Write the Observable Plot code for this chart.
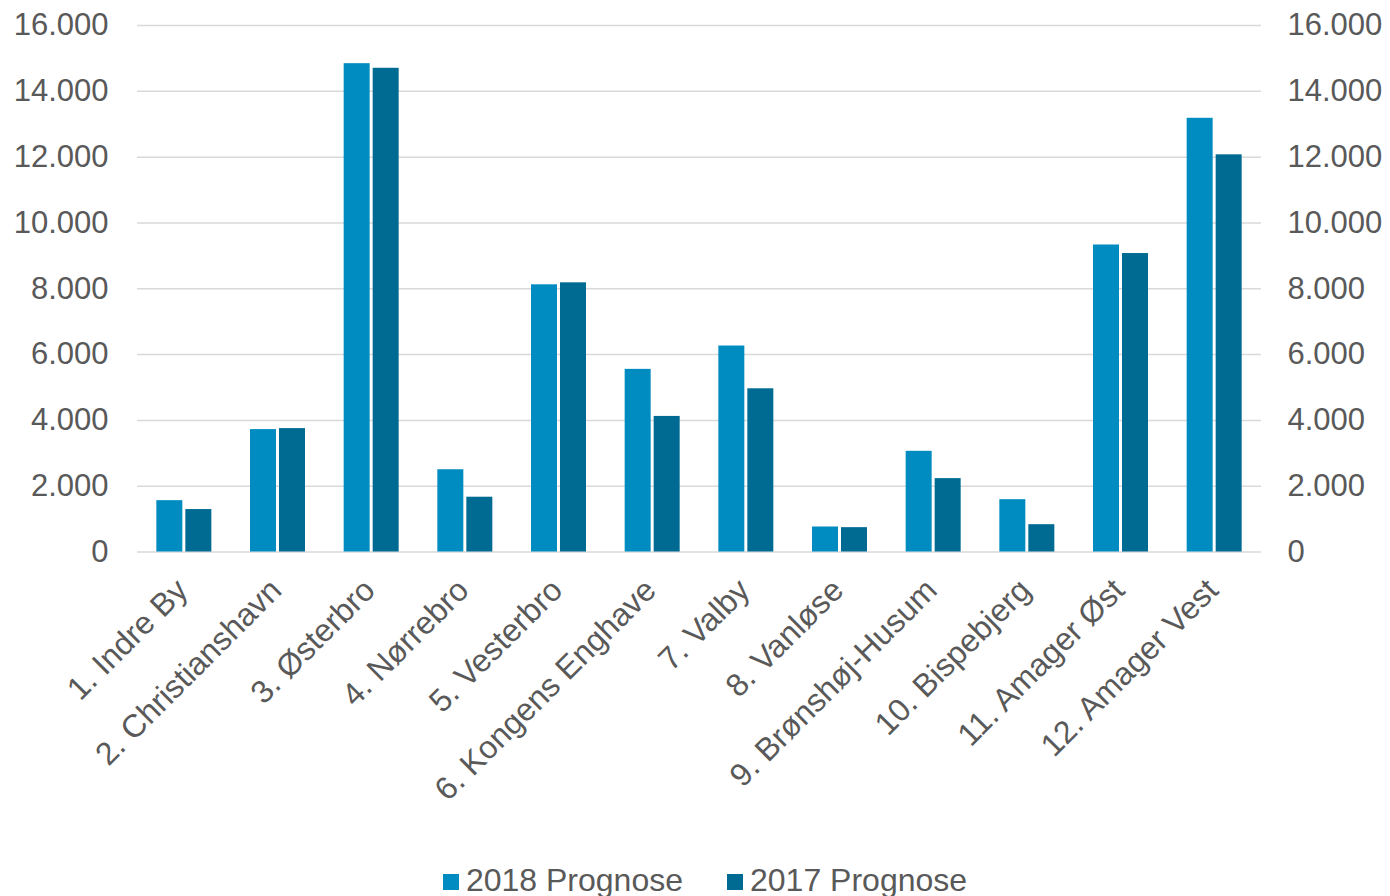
<!DOCTYPE html>
<html>
<head>
<meta charset="utf-8">
<script src="https://cdn.jsdelivr.net/npm/d3@7"></script>
<script src="https://cdn.jsdelivr.net/npm/@observablehq/plot@0.6"></script>
<style>
  html, body { margin: 0; padding: 0; background: #fff; }
  body { width: 1390px; height: 896px; overflow: hidden; font-family: "Liberation Sans", Arial, sans-serif; }
  #legend { position: relative; height: 40px; display: flex; justify-content: center; align-items: center;
            font-size: 32px; color: #595959; padding-left: 20px; box-sizing: border-box; margin-top: 4px; }
  .item { display: flex; align-items: center; margin: 0 22px; }
  .sw { width: 16px; height: 16px; margin-right: 7px; margin-top: 3px; }
</style>
</head>
<body>
<div id="chart"></div>
<div id="legend"></div>
<script>
const districts = [
  "1. Indre By", "2. Christianshavn", "3. Østerbro", "4. Nørrebro",
  "5. Vesterbro", "6. Kongens Enghave", "7. Valby", "8. Vanløse",
  "9. Brønshøj-Husum", "10. Bispebjerg", "11. Amager Øst", "12. Amager Vest"
];
const prognose2018 = [1560, 3720, 14840, 2500, 8120, 5550, 6260, 760, 3060, 1590, 9330, 13180];
const prognose2017 = [1290, 3750, 14700, 1665, 8180, 4120, 4960, 740, 2230, 830, 9070, 12070];
const seriesNames = ["2018 Prognose", "2017 Prognose"];
const seriesColors = ["#008CC1", "#006B92"];
const yTicks = [0, 2000, 4000, 6000, 8000, 10000, 12000, 14000, 16000];

const rows2018 = districts.map((d, i) => ({district: d, value: prognose2018[i]}));
const rows2017 = districts.map((d, i) => ({district: d, value: prognose2017[i]}));

const W = 1390, H = 856;
const mL = 137, mR = 129, mT = 25, mB = H - 551.5;
const band = (W - mL - mR) / districts.length;
const barW = 26, gap = 3;
const outer = band / 2 - barW - gap / 2;   // inset from band edge to outer bar edge
const inner = band / 2 + gap / 2;          // inset from band edge to inner bar edge

const fmt = d => d3.format(",")(d).replace(/,/g, ".");

const chart = Plot.plot({
  width: W,
  height: H,
  marginLeft: mL,
  marginRight: mR,
  marginTop: mT,
  marginBottom: mB,
  style: {fontFamily: "'Liberation Sans', Arial, sans-serif", fontSize: "31px", color: "#595959", background: "#fff"},
  x: {domain: districts, padding: 0, round: false, axis: null},
  y: {domain: [0, 16000], axis: null},
  marks: [
    Plot.ruleY(yTicks, {stroke: "#d9d9d9", strokeWidth: 1.5}),
    Plot.barY(rows2018, {x: "district", y: "value", fill: seriesColors[0], insetLeft: outer, insetRight: inner}),
    Plot.barY(rows2017, {x: "district", y: "value", fill: seriesColors[1], insetLeft: inner, insetRight: outer}),
    Plot.axisY({anchor: "left", ticks: yTicks, tickSize: 0, tickPadding: 29, tickFormat: fmt, fontSize: 31, label: null}),
    Plot.axisY({anchor: "right", ticks: yTicks, tickSize: 0, tickPadding: 26, tickFormat: fmt, fontSize: 31, label: null}),
    Plot.axisX({anchor: "bottom", tickSize: 0, tickPadding: 33, tickRotate: -45, fontSize: 32, label: null, dx: -2})
  ]
});
document.getElementById("chart").appendChild(chart);

const legend = document.getElementById("legend");
seriesNames.forEach((name, i) => {
  const item = document.createElement("div");
  item.className = "item";
  const sw = document.createElement("div");
  sw.className = "sw";
  sw.style.background = seriesColors[i];
  const t = document.createElement("span");
  t.textContent = name;
  item.appendChild(sw);
  item.appendChild(t);
  legend.appendChild(item);
});
</script>
</body>
</html>
